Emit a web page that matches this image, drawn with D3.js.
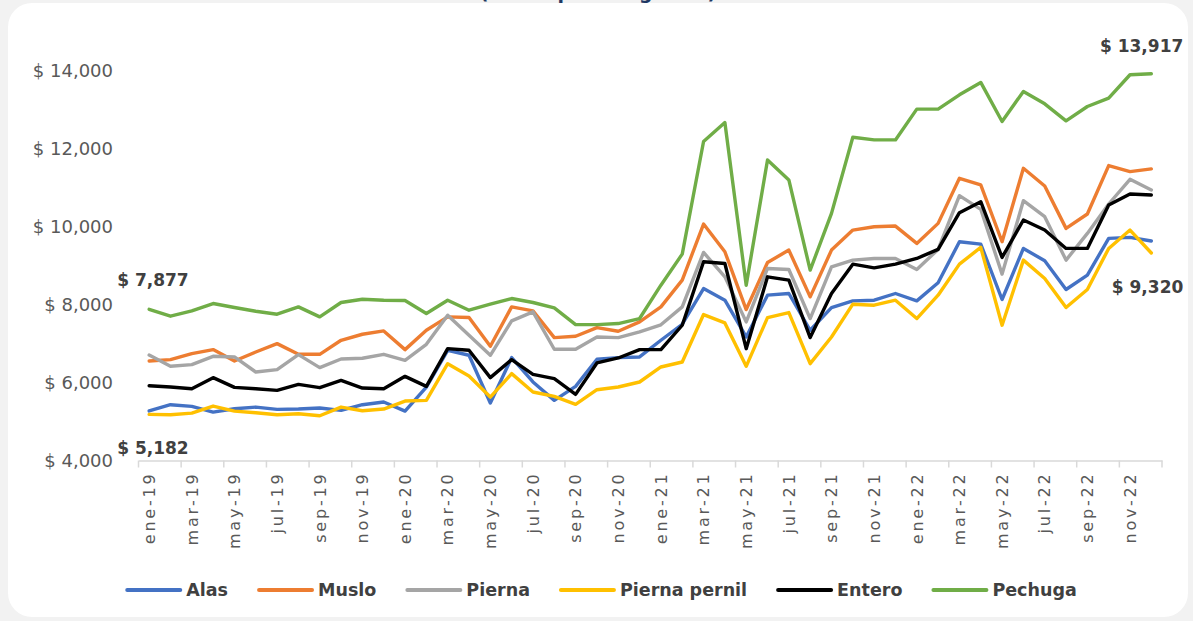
<!DOCTYPE html>
<html>
<head>
<meta charset="utf-8">
<script src="https://cdn.jsdelivr.net/npm/d3@7"></script>
<style>
  html, body { margin: 0; padding: 0; background: #f2f2f2; }
  svg { display: block; }
</style>
</head>
<body>
<svg id="chart" width="1193" height="621"></svg>
<script>
const months = [
  "ene-19","feb-19","mar-19","abr-19","may-19","jun-19","jul-19","ago-19","sep-19","oct-19","nov-19","dic-19",
  "ene-20","feb-20","mar-20","abr-20","may-20","jun-20","jul-20","ago-20","sep-20","oct-20","nov-20","dic-20",
  "ene-21","feb-21","mar-21","abr-21","may-21","jun-21","jul-21","ago-21","sep-21","oct-21","nov-21","dic-21",
  "ene-22","feb-22","mar-22","abr-22","may-22","jun-22","jul-22","ago-22","sep-22","oct-22","nov-22","dic-22"
];

const alas = [5270,5430,5387,5242,5327,5370,5310,5319,5345,5285,5430,5499,
  5267,5884,6826,6698,5473,6638,6013,5542,5901,6595,6638,6655,
  7083,7494,8410,8110,7168,8239,8282,7340,7922,8093,8110,8282,
  8094,8556,9609,9549,8128,9438,9121,8385,8753,9695,9721,9627];

const muslo = [6552,6586,6740,6843,6552,6783,6997,6723,6723,7083,7237,7323,
  6843,7340,7682,7665,6929,7939,7836,7151,7186,7408,7314,7554,
  7939,8624,10063,9352,7870,9078,9395,8196,9395,9908,9994,10011,
  9567,10080,11236,11065,9609,11493,11039,9952,10320,11562,11408,11476];

const pierna = [6706,6415,6458,6672,6655,6269,6329,6715,6381,6603,6621,6723,
  6569,6980,7725,7211,6698,7580,7811,6852,6852,7168,7151,7297,
  7480,7939,9335,8710,7554,8924,8898,7639,8967,9138,9181,9181,
  8899,9412,10791,10440,8779,10662,10252,9138,9823,10577,11211,10937];

const piernaPernil = [5182,5173,5216,5396,5267,5225,5173,5199,5148,5370,5276,5319,
  5524,5542,6483,6167,5627,6227,5756,5644,5439,5815,5884,6013,
  6398,6526,7742,7528,6415,7665,7794,6483,7168,8008,7982,8110,
  7640,8239,9036,9464,7469,9138,8668,7922,8385,9438,9909,9320];

const entero = [5918,5884,5841,6124,5875,5841,5798,5953,5867,6055,5858,5841,
  6158,5901,6869,6826,6124,6586,6209,6098,5696,6501,6629,6843,
  6843,7468,9095,9052,6868,8710,8624,7151,8282,9035,8941,9035,
  9181,9412,10354,10637,9207,10166,9909,9438,9438,10551,10834,10808];

const pechuga = [7877,7700,7836,8025,7922,7828,7751,7939,7682,8051,8136,8110,
  8102,7768,8110,7854,8008,8153,8051,7914,7485,7485,7511,7640,
  8495,9292,12178,12666,8495,11707,11193,8881,10337,12289,12220,12220,
  13009,13009,13377,13694,12692,13463,13146,12709,13077,13291,13891,13917];

const seriesNames = ["Alas","Muslo","Pierna","Pierna pernil","Entero","Pechuga"];
const seriesValues = [alas, muslo, pierna, piernaPernil, entero, pechuga];
const seriesColors = ["#4472C4","#ED7D31","#A5A5A5","#FFC000","#000000","#70AD47"];
const yTicks = [4000,6000,8000,10000,12000,14000];
const titleText = "(Pesos por kilogramo)";

const svg = d3.select("#chart");
const W = 1193, H = 621;

svg.append("rect").attr("x",0).attr("y",0).attr("width",W).attr("height",H).attr("fill","#f2f2f2");
svg.append("rect").attr("x",8).attr("y",3).attr("width",1180).attr("height",614).attr("rx",24).attr("fill","#ffffff");

// Title (mostly clipped at top, as in the reference)
svg.append("text")
  .attr("x", 598).attr("y", -1)
  .attr("text-anchor","middle")
  .attr("font-family","'DejaVu Sans', sans-serif")
  .attr("font-weight","bold")
  .attr("font-size",19)
  .attr("fill","#1F3864")
  .text(titleText);

const x = d3.scaleBand().domain(months).range([138.5, 1162]).padding(0);
const y = d3.scaleLinear().domain([4000,14000]).range([460.5, 70.5]);
const cx = m => x(m) + x.bandwidth()/2;

// Y axis labels (no line, no gridlines)
const yAxis = d3.axisLeft(y).tickValues(yTicks).tickSize(0).tickPadding(0)
  .tickFormat(d => "$ " + d3.format(",")(d));
const gy = svg.append("g").attr("transform","translate(113,0)").call(yAxis);
gy.select(".domain").remove();
gy.selectAll("text")
  .attr("font-family","'DejaVu Sans', sans-serif")
  .attr("font-size",18)
  .attr("fill","#595959");

// X axis
const xAxis = d3.axisBottom(x).tickValues(months.filter((m,i)=>i%2===0)).tickSize(0);
const gx = svg.append("g").attr("transform","translate(0,460.5)").call(xAxis);
gx.select(".domain").attr("stroke","#d9d9d9").attr("stroke-width",1.5);
gx.selectAll(".tick line").remove();
gx.selectAll(".tick text")
  .attr("transform","rotate(-90)")
  .attr("text-anchor","end")
  .attr("x",-11).attr("y",0).attr("dy","0.36em")
  .attr("font-family","'DejaVu Sans', sans-serif")
  .attr("font-size",16)
  .attr("letter-spacing","2.8px")
  .attr("fill","#595959");
// tick marks between categories every two months
const tickPos = d3.range(0, months.length + 1, 2).map(i => i < months.length ? x(months[i]) : x.range()[1]);
gx.selectAll("line.tm").data(tickPos).join("line")
  .attr("class","tm")
  .attr("x1",d=>d).attr("x2",d=>d).attr("y1",0).attr("y2",7)
  .attr("stroke","#d9d9d9").attr("stroke-width",1.5);

// Lines
const line = d3.line().x((d,i)=>cx(months[i])).y(d=>y(d));
seriesValues.forEach((vals, k) => {
  svg.append("path")
    .datum(vals)
    .attr("d", line)
    .attr("fill","none")
    .attr("stroke", seriesColors[k])
    .attr("stroke-width", 3.4)
    .attr("stroke-linejoin","round")
    .attr("stroke-linecap","round");
});

// Data labels
const fmt = v => "$ " + d3.format(",")(v);
const lblFont = "'DejaVu Sans', sans-serif";
function dataLabel(text, xx, yy, anchor) {
  svg.append("text").attr("x",xx).attr("y",yy).attr("text-anchor",anchor)
    .attr("font-family",lblFont).attr("font-weight","bold").attr("font-size",17)
    .attr("fill","#404040").text(text);
}
const last = months.length - 1;
dataLabel(fmt(pechuga[0]), cx(months[0]) - 32, y(pechuga[0]) - 23, "start");
dataLabel(fmt(piernaPernil[0]), cx(months[0]) - 32, y(piernaPernil[0]) + 40, "start");
dataLabel(fmt(pechuga[last]), cx(months[last]) + 32, y(pechuga[last]) - 22, "end");
dataLabel(fmt(piernaPernil[last]), cx(months[last]) + 32, y(piernaPernil[last]) + 40, "end");

// Legend
const legend = svg.append("g");
let lx = 0;
seriesNames.forEach((name, k) => {
  const g = legend.append("g").attr("transform", `translate(${lx},0)`);
  g.append("line").attr("x1",0).attr("x2",53).attr("y1",0).attr("y2",0)
    .attr("stroke",seriesColors[k]).attr("stroke-width",4).attr("stroke-linecap","round");
  const t = g.append("text").attr("x",59).attr("y",0).attr("dy","0.36em")
    .attr("font-family","'DejaVu Sans', sans-serif").attr("font-weight","bold")
    .attr("font-size",17.5).attr("fill","#404040").text(name);
  const w = t.node().getComputedTextLength();
  lx += 59 + w + 31;
});
const totalW = lx - 31;
legend.attr("transform", `translate(${602 - totalW/2},590)`);
</script>
</body>
</html>
